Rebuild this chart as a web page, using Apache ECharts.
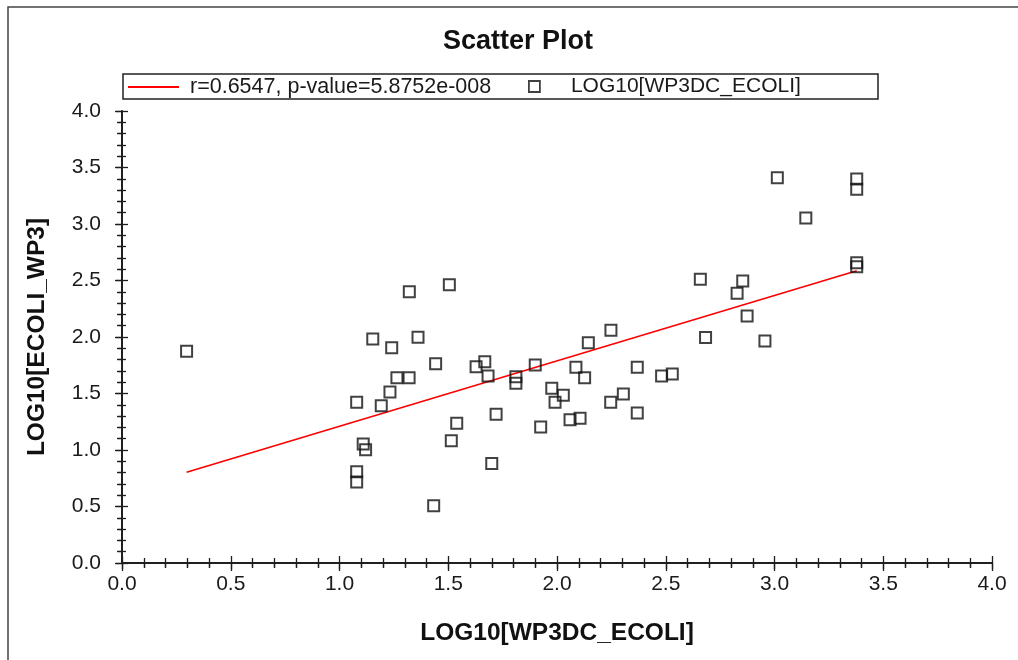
<!DOCTYPE html>
<html>
<head>
<meta charset="utf-8">
<script src="https://cdn.jsdelivr.net/npm/echarts@6/dist/echarts.min.js"></script>
<style>
html,body{margin:0;padding:0;background:#fff;}
#chart{width:1018px;height:660px;}
</style>
</head>
<body>
<div id="chart"></div>
<script>
// ---- Data ----
const xValues = [0.297,1.079,1.079,1.079,1.109,1.120,1.153,1.192,1.232,1.240,1.264,1.320,1.321,1.361,1.433,1.442,1.505,1.514,1.539,1.628,1.668,1.683,1.700,1.720,1.811,1.811,1.900,1.925,1.976,1.991,2.029,2.060,2.087,2.106,2.127,2.144,2.247,2.248,2.305,2.369,2.369,2.481,2.530,2.659,2.683,2.828,2.854,2.874,2.956,3.013,3.144,3.378,3.378,3.378,3.378];
const yValues = [1.873,1.422,0.808,0.717,1.053,1.003,1.982,1.392,1.513,1.905,1.640,1.640,2.401,1.997,0.507,1.764,2.463,1.082,1.236,1.737,1.781,1.655,0.881,1.316,1.649,1.590,1.752,1.204,1.546,1.422,1.484,1.268,1.732,1.281,1.640,1.950,1.422,2.059,1.496,1.732,1.327,1.655,1.673,2.511,1.996,2.387,2.496,2.186,1.965,3.410,3.053,3.398,3.307,2.658,2.622];
const fitX = [0.297, 3.378];
const fitY = [0.803, 2.586];
const fitName = 'r=0.6547, p-value=5.8752e-008';
const pointName = 'LOG10[WP3DC_ECOLI]';
const xAxisName = 'LOG10[WP3DC_ECOLI]';
const yAxisName = 'LOG10[ECOLI_WP3]';
const titleText = 'Scatter Plot';
const axisMin = 0, axisMax = 4, axisStep = 0.5;

const scatterData = xValues.map((x, i) => [x, yValues[i]]);
const fitData = fitX.map((x, i) => [x, fitY[i]]);

const FONT = '"Liberation Sans", Arial, sans-serif';
const AX = '#1e1e1e';

function baseAxis(extra) {
  return Object.assign({
    type: 'value', min: axisMin, max: axisMax, interval: axisStep,
    splitLine: { show: false },
    axisLine: { show: true, lineStyle: { color: AX, width: 1.5 } },
    minorSplitLine: { show: false }
  }, extra);
}

const chart = echarts.init(document.getElementById('chart'), null, { renderer: 'canvas' });
const gridPos = { left: 122, right: 26, top: 111, bottom: 97, containLabel: false };

chart.setOption({
  animation: false,
  backgroundColor: '#ffffff',
  title: {
    text: titleText, left: 443, top: 28, padding: 0,
    textStyle: { fontFamily: FONT, fontWeight: 'bold', fontSize: 27, color: '#111' }
  },
  graphic: [
    { type: 'rect', shape: { x: 8, y: 7, width: 1100, height: 700 },
      style: { fill: 'none', stroke: '#444', lineWidth: 1.5 }, silent: true },
    { type: 'rect', shape: { x: 123, y: 74, width: 755, height: 25 },
      style: { fill: 'none', stroke: '#222', lineWidth: 1.5 }, silent: true, z: 10 }
  ],
  legend: [
    {
      left: 128, top: 76, padding: 0, itemWidth: 51, itemHeight: 2,
      data: [{ name: fitName, icon: 'rect', itemStyle: { color: '#ff0000' } }],
      textStyle: { fontFamily: FONT, fontSize: 21.5, color: '#1a1a1a', padding: [0, 0, 0, 6] }
    },
    {
      left: 528, top: 76, padding: 0, itemWidth: 11, itemHeight: 11,
      data: [{ name: pointName, icon: 'rect',
               itemStyle: { color: 'rgba(0,0,0,0)', borderColor: '#111', borderWidth: 1.8 } }],
      textStyle: { fontFamily: FONT, fontSize: 21, color: '#1a1a1a', padding: [0, 0, 0, 26] }
    }
  ],
  grid: [ Object.assign({}, gridPos), Object.assign({}, gridPos) ],
  xAxis: [
    baseAxis({
      gridIndex: 0, position: 'bottom',
      name: xAxisName, nameLocation: 'middle', nameGap: 58,
      nameTextStyle: { fontFamily: FONT, fontWeight: 'bold', fontSize: 24.5, color: '#111' },
      axisTick: { show: true, inside: false, length: 8, lineStyle: { color: AX, width: 1.3 } },
      minorTick: { show: true, splitNumber: 5, length: 5, lineStyle: { color: AX, width: 1.3 } },
      axisLabel: { show: true, margin: 11, fontFamily: FONT, fontSize: 21, color: '#1a1a1a',
                   showMinLabel: true, showMaxLabel: true, formatter: v => v.toFixed(1) }
    }),
    baseAxis({
      gridIndex: 1, position: 'bottom',
      axisTick: { show: true, inside: true, length: 7, lineStyle: { color: AX, width: 1.3 } },
      minorTick: { show: true, splitNumber: 5, length: 5, lineStyle: { color: AX, width: 1.3 } },
      axisLabel: { show: false }
    }),
    baseAxis({
      gridIndex: 1, position: 'top',
      axisTick: { show: true, inside: true, length: 6, lineStyle: { color: AX, width: 1.3 } },
      minorTick: { show: true, splitNumber: 5, length: 4.5, lineStyle: { color: AX, width: 1.3 } },
      axisLabel: { show: false }
    })
  ],
  yAxis: [
    baseAxis({
      gridIndex: 0, position: 'left',
      name: yAxisName, nameLocation: 'middle', nameGap: 72, nameRotate: 90,
      nameTextStyle: { fontFamily: FONT, fontWeight: 'bold', fontSize: 24.5, color: '#111' },
      axisTick: { show: true, inside: false, length: 7, lineStyle: { color: AX, width: 1.3 } },
      minorTick: { show: true, splitNumber: 5, length: 4, lineStyle: { color: AX, width: 1.3 } },
      axisLabel: { show: true, margin: 21, fontFamily: FONT, fontSize: 21, color: '#1a1a1a',
                   showMinLabel: true, showMaxLabel: true, formatter: v => v.toFixed(1) }
    }),
    baseAxis({
      gridIndex: 1, position: 'left',
      axisTick: { show: true, inside: true, length: 6, lineStyle: { color: AX, width: 1.3 } },
      minorTick: { show: true, splitNumber: 5, length: 4, lineStyle: { color: AX, width: 1.3 } },
      axisLabel: { show: false }
    }),
    baseAxis({
      gridIndex: 1, position: 'right',
      axisTick: { show: true, inside: true, length: 6, lineStyle: { color: AX, width: 1.3 } },
      minorTick: { show: true, splitNumber: 5, length: 5, lineStyle: { color: AX, width: 1.3 } },
      axisLabel: { show: false }
    })
  ],
  series: [
    {
      name: fitName, type: 'line', xAxisIndex: 0, yAxisIndex: 0,
      data: fitData, symbol: 'none', showSymbol: false,
      lineStyle: { color: '#ff0000', width: 1.7 },
      itemStyle: { color: '#ff0000' }, z: 3
    },
    {
      name: pointName, type: 'scatter', xAxisIndex: 0, yAxisIndex: 0,
      data: scatterData, symbol: 'rect', symbolSize: 11,
      itemStyle: { color: 'rgba(0,0,0,0)', borderColor: '#111', borderWidth: 2 }, z: 4
    }
  ]
});
</script>
</body>
</html>
